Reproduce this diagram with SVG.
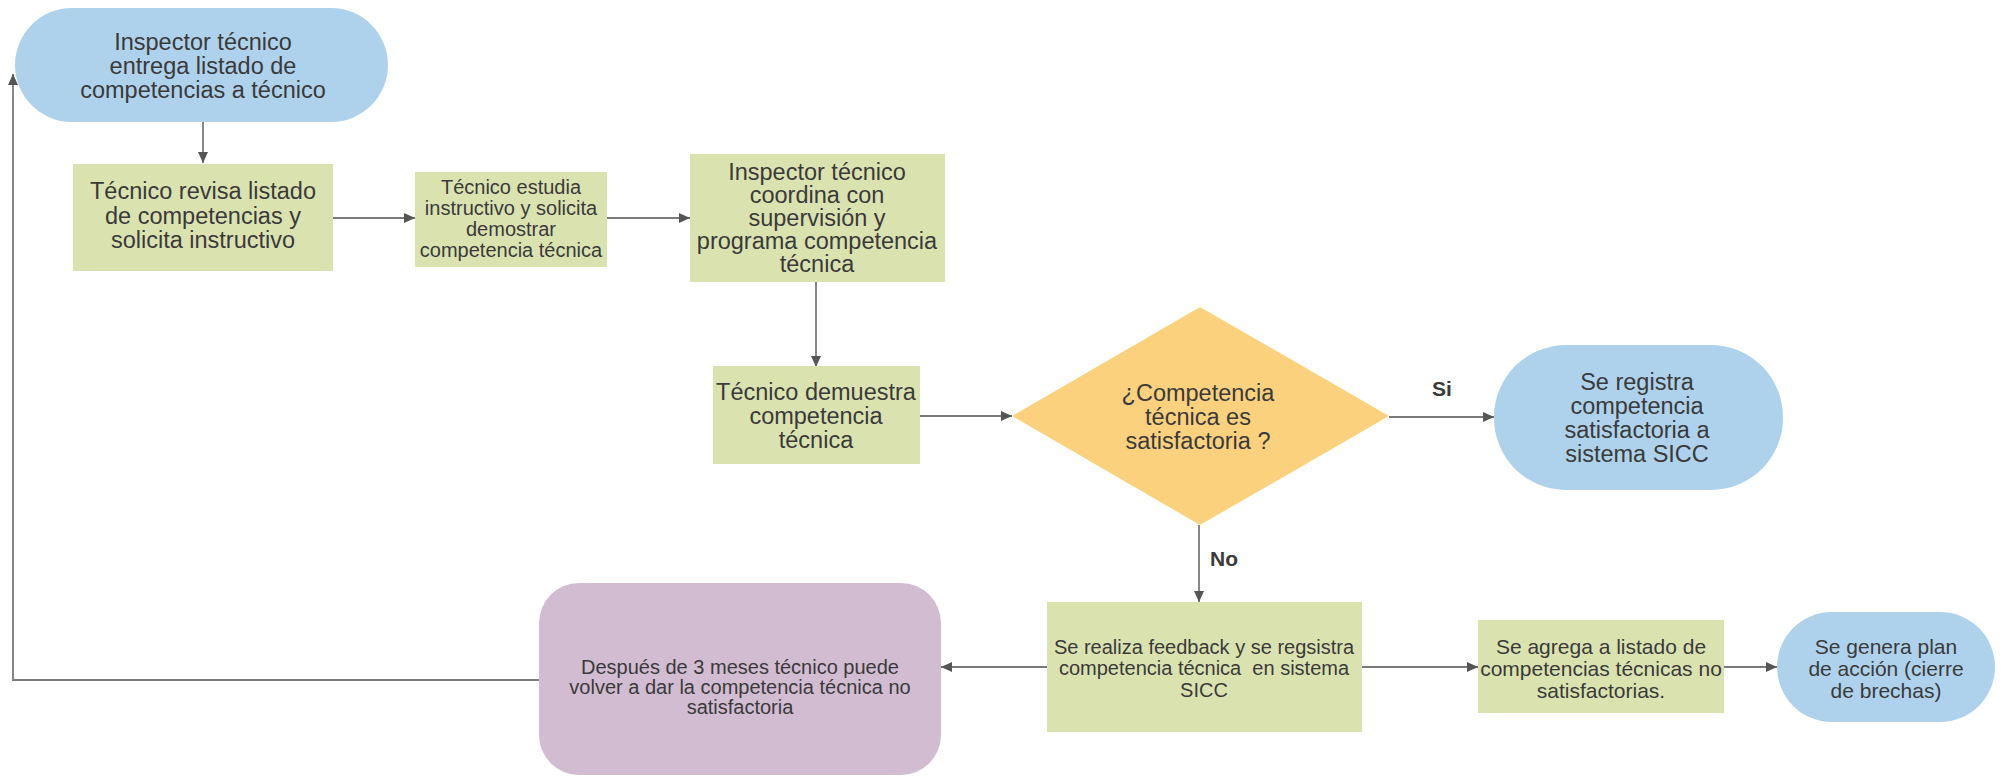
<svg xmlns="http://www.w3.org/2000/svg" width="2008" height="777" viewBox="0 0 2008 777">
<style>
.t{font-family:"Liberation Sans",Arial,sans-serif;fill:#3a3a3a;text-anchor:middle}
.f23{font-size:23.5px}
.f21{font-size:21px}
.f20{font-size:20px}
.lbl{font-family:"Liberation Sans",Arial,sans-serif;fill:#3a3a3a;font-size:21px;font-weight:bold}
.blue{fill:#aed2ec}
.green{fill:#dae3b0}
.orange{fill:#fcd17e}
.purple{fill:#d2bcd2}
.c{fill:none;stroke:#7a7a7a;stroke-width:1.8;marker-end:url(#ah)}
</style>
<defs>
<marker id="ah" markerUnits="userSpaceOnUse" markerWidth="11" markerHeight="10" refX="11" refY="5" orient="auto">
<path d="M0,0 L11,5 L0,10 z" fill="#555"/>
</marker>
</defs>
<rect width="2008" height="777" fill="#ffffff"/>
<g id="connectors">
<path class="c" d="M203,122 V163"/>
<path class="c" d="M333,218 H415"/>
<path class="c" d="M607,218 H690"/>
<path class="c" d="M816,282 V367"/>
<path class="c" d="M920,416 H1012"/>
<path class="c" d="M1389,417 H1494"/>
<path class="c" d="M1199,525 V602"/>
<path class="c" d="M1047,667 H941"/>
<path class="c" d="M1362,667 H1478"/>
<path class="c" d="M1724,667 H1777"/>
<path class="c" d="M539,680 H13 V74"/>
<text class="lbl" x="1442" y="396" text-anchor="middle">Si</text>
<text class="lbl" x="1224" y="566" text-anchor="middle">No</text>
</g>
<g id="n1">
<rect class="blue" x="15" y="8" width="373" height="114" rx="57"/>
<text class="t f23" x="203" y="50">Inspector técnico</text>
<text class="t f23" x="203" y="74">entrega listado de</text>
<text class="t f23" x="203" y="98">competencias a técnico</text>
</g>
<g id="n2">
<rect class="green" x="73" y="164" width="260" height="107"/>
<text class="t f23" x="203" y="199">Técnico revisa listado</text>
<text class="t f23" x="203" y="224">de competencias y</text>
<text class="t f23" x="203" y="248">solicita instructivo</text>
</g>
<g id="n3">
<rect class="green" x="415" y="172" width="192" height="95"/>
<text class="t f20" x="511" y="194">Técnico estudia</text>
<text class="t f20" x="511" y="215">instructivo y solicita</text>
<text class="t f20" x="511" y="236">demostrar</text>
<text class="t f20" x="511" y="257">competencia técnica</text>
</g>
<g id="n4">
<rect class="green" x="690" y="154" width="255" height="128"/>
<text class="t f23" x="817" y="180">Inspector técnico</text>
<text class="t f23" x="817" y="203">coordina con</text>
<text class="t f23" x="817" y="226">supervisión y</text>
<text class="t f23" x="817" y="249">programa competencia</text>
<text class="t f23" x="817" y="272">técnica</text>
</g>
<g id="n5">
<rect class="green" x="713" y="366" width="207" height="98"/>
<text class="t f23" x="816" y="400">Técnico demuestra</text>
<text class="t f23" x="816" y="424">competencia</text>
<text class="t f23" x="816" y="448">técnica</text>
</g>
<g id="n6">
<polygon class="orange" points="1012,416 1200,307 1389,416 1200,525"/>
<text class="t f23" x="1198" y="401">¿Competencia</text>
<text class="t f23" x="1198" y="425">técnica es</text>
<text class="t f23" x="1198" y="449">satisfactoria ?</text>
</g>
<g id="n7">
<rect class="blue" x="1494" y="345" width="289" height="145" rx="72"/>
<text class="t f23" x="1637" y="390">Se registra</text>
<text class="t f23" x="1637" y="414">competencia</text>
<text class="t f23" x="1637" y="438">satisfactoria a</text>
<text class="t f23" x="1637" y="462">sistema SICC</text>
</g>
<g id="n8">
<rect class="green" x="1047" y="602" width="315" height="130"/>
<text class="t f20" x="1204" y="654">Se realiza feedback y se regsistra</text>
<text class="t f20" x="1204" y="675" xml:space="preserve">competencia técnica  en sistema</text>
<text class="t f20" x="1204" y="697">SICC</text>
</g>
<g id="n9">
<rect class="green" x="1478" y="620" width="246" height="93"/>
<text class="t f21" x="1601" y="654">Se agrega a listado de</text>
<text class="t f21" x="1601" y="676">competencias técnicas no</text>
<text class="t f21" x="1601" y="698">satisfactorias.</text>
</g>
<g id="n10">
<rect class="blue" x="1777" y="612" width="218" height="110" rx="55"/>
<text class="t f21" x="1886" y="654">Se genera plan</text>
<text class="t f21" x="1886" y="676">de acción (cierre</text>
<text class="t f21" x="1886" y="698">de brechas)</text>
</g>
<g id="n11">
<rect class="purple" x="539" y="583" width="402" height="192" rx="40"/>
<text class="t f20" x="740" y="674">Después de 3 meses técnico puede</text>
<text class="t f20" x="740" y="694">volver a dar la competencia técnica no</text>
<text class="t f20" x="740" y="714">satisfactoria</text>
</g>
</svg>
